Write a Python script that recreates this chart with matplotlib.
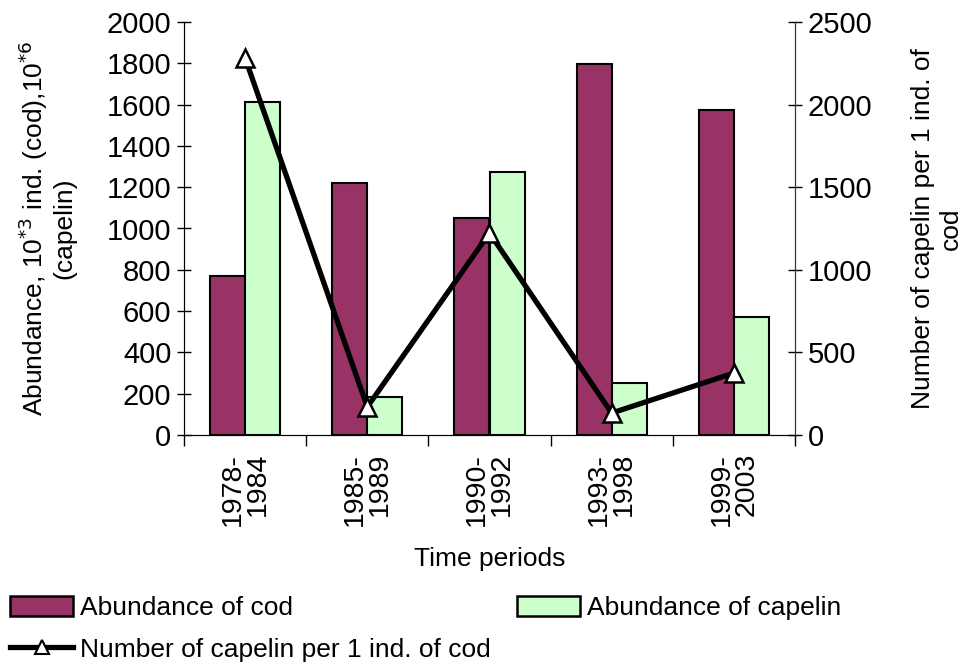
import matplotlib
matplotlib.use("Agg")
import matplotlib.pyplot as plt
import numpy as np
from matplotlib.patches import Patch
from matplotlib.lines import Line2D

periods = ["1978-\n1984", "1985-\n1989", "1990-\n1992", "1993-\n1998", "1999-\n2003"]
cod = [770, 1220, 1050, 1797, 1574]
capelin = [1613, 184, 1273, 252, 571]
ratio = [2282, 170, 1223, 133, 375]

plt.rcParams['font.family'] = ['Liberation Sans', 'DejaVu Sans']
fs_tick = 21
fs = 19

fig = plt.figure(figsize=(9.65, 6.65), dpi=100)
ax = fig.add_axes([184/965, 1-435/665, (795-184)/965, (435-22)/665])
x = np.arange(len(periods))
w = 0.287
ax.bar(x - w/2, cod, w, color="#993366", edgecolor="black", linewidth=1.5, zorder=2)
ax.bar(x + w/2, capelin, w, color="#CCFFCC", edgecolor="black", linewidth=1.5, zorder=2)
ax.set_xlim(-0.5, len(periods) - 0.5)
ax.set_ylim(0, 2000)
ax.set_yticks(np.arange(0, 2001, 200))
ax.tick_params(axis='y', direction='inout', length=10, width=1, labelsize=fs_tick, pad=4)
ax.set_xticks(np.arange(-0.5, len(periods), 1))
ax.set_xticklabels([])
ax.set_xticks(x, minor=True)
ax.set_xticklabels(periods, minor=True, rotation=90, fontsize=fs_tick - 0.5, va='top', ha='center',
                   multialignment='right', linespacing=0.95)
ax.tick_params(axis='x', which='major', direction='out', length=8, width=1)
ax.tick_params(axis='x', which='minor', length=0, pad=13)
ax.spines['top'].set_visible(False)
for s in ['left', 'bottom', 'right']:
    ax.spines[s].set_color('#333333')
ax.set_ylabel("Abundance, 10$^{*3}$ ind. (cod),10$^{*6}$\n(capelin)", fontsize=fs, labelpad=22,
              linespacing=1.1)
ax.set_xlabel("Time periods", fontsize=fs, labelpad=15)

ax2 = ax.twinx()
ax2.plot(x, ratio, color="black", lw=3.8, marker='^', markersize=13, markerfacecolor='white',
         markeredgecolor='black', markeredgewidth=1.8, zorder=3)
ax2.set_ylim(0, 2500)
ax2.set_yticks(np.arange(0, 2501, 500))
ax2.tick_params(axis='y', direction='inout', length=10, width=1, labelsize=fs_tick, pad=4)
ax2.spines['top'].set_visible(False)
ax2.spines['right'].set_color('#333333')
ax2.set_ylabel("Number of capelin per 1 ind. of\ncod", fontsize=fs, labelpad=28, linespacing=1.2)

handles = [Patch(facecolor="#993366", edgecolor="black", linewidth=1.8),
           Line2D([], [], color="black", lw=3.8, marker='^', markersize=10,
                  markerfacecolor='white', markeredgecolor='black', markeredgewidth=1.5),
           Patch(facecolor="#CCFFCC", edgecolor="black", linewidth=1.8)]
labels = ["Abundance of cod", "Number of capelin per 1 ind. of cod", "Abundance of capelin"]
fig.legend(handles, labels, ncol=2, loc='upper left', bbox_to_anchor=(10/965, 1-596/665),
           frameon=False, fontsize=fs, handlelength=2.4, handleheight=0.8, handletextpad=0.25,
           columnspacing=1.0, labelspacing=0.65, borderaxespad=0, borderpad=0)

fig.savefig("out.png", dpi=100)
